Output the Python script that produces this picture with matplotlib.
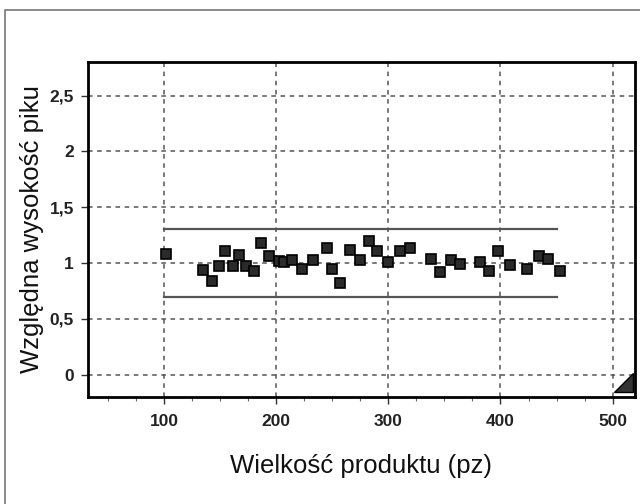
import matplotlib
matplotlib.use("Agg")
import matplotlib.pyplot as plt
from matplotlib.patches import Rectangle, Polygon
from matplotlib.ticker import MultipleLocator

plt.rcParams['font.family'] = ['Liberation Sans', 'DejaVu Sans']

size_pz = [102, 135, 142.6, 148.5, 154.5, 161, 167, 173, 179.7, 186.6, 193.8, 202,
           206.5, 214, 223, 233, 245, 249.7, 257, 266, 275, 282.4, 290, 299.4,
           310.7, 319, 338, 345.8, 356, 364, 381.5, 389.6, 397.6, 408.3, 423.8,
           434, 442.6, 453]
rel_height = [1.08, 0.94, 0.84, 0.97, 1.11, 0.97, 1.07, 0.97, 0.93, 1.18, 1.06, 1.02,
              1.01, 1.03, 0.95, 1.03, 1.13, 0.95, 0.82, 1.12, 1.03, 1.20, 1.11, 1.01,
              1.11, 1.13, 1.04, 0.92, 1.03, 0.99, 1.01, 0.93, 1.11, 0.98, 0.95,
              1.06, 1.04, 0.93]
limit_x = [100, 450]
upper_limit = 1.3
lower_limit = 0.7
x_ticks = [100, 200, 300, 400, 500]
y_ticks = [0, 0.5, 1, 1.5, 2, 2.5]
y_ticklabels = ['0', '0,5', '1', '1,5', '2', '2,5']

fig = plt.figure(figsize=(6.4, 5.04), dpi=100)
fig.patches.append(Rectangle((5/640, -0.1), 1.2, 1.1 - 10/504, transform=fig.transFigure,
                             fill=False, edgecolor='#777777', linewidth=1.2))
ax = fig.add_axes([88/640, 1 - 397/504, 547/640, 335/504])
ax.set_xlim(32, 520)
ax.set_ylim(-0.2, 2.8)

ax.set_xticks(x_ticks)
ax.xaxis.set_minor_locator(MultipleLocator(25))
ax.set_yticks(y_ticks)
ax.set_yticklabels(y_ticklabels)
ax.grid(True, which='major', linestyle=(0, (3, 3)), color='#555555', linewidth=1.1)

ax.plot(limit_x, [upper_limit, upper_limit], color='#555555', linewidth=1.6, zorder=3)
ax.plot(limit_x, [lower_limit, lower_limit], color='#555555', linewidth=1.6, zorder=3)
ax.plot(size_pz, rel_height, linestyle='none', marker='s', markersize=7.5,
        markerfacecolor='#2a2a2a', markeredgecolor='#000000', markeredgewidth=1.2, zorder=4)

for s in ax.spines.values():
    s.set_linewidth(2)
    s.set_color('black')
ax.tick_params(axis='both', which='major', length=5, width=1, color='#333333',
               labelsize=12.5, pad=7)
ax.tick_params(axis='y', which='major', pad=5)
ax.tick_params(axis='x', which='minor', length=3, width=0.8, color='#666666')
for lab in ax.get_xticklabels() + ax.get_yticklabels():
    lab.set_fontweight('bold')
    lab.set_color('#222222')

ax.add_patch(Polygon([(0.962, 0.015), (0.996, 0.015), (0.996, 0.072)], closed=True,
                     transform=ax.transAxes, facecolor='#333333', edgecolor='black',
                     linewidth=1, zorder=5, clip_on=False))

ax.set_xlabel('Wielkość produktu (pz)', fontsize=18.5, color='#111111')
ax.set_ylabel('Względna wysokość piku', fontsize=18.5, color='#111111')
ax.xaxis.set_label_coords(0.5, -0.17)
ax.yaxis.set_label_coords(-0.08, 0.5)

fig.savefig('out.png', dpi=100)
